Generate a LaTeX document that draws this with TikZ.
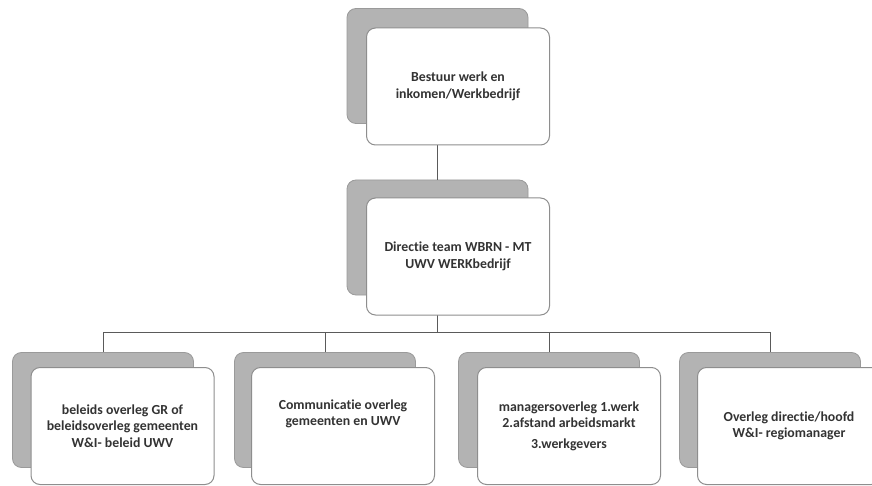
\documentclass[tikz,border=0pt]{standalone}
\usepackage{fontspec}
\setmainfont{Carlito}[Ligatures=NoCommon]
\definecolor{backfill}{HTML}{B3B3B3}
\definecolor{backdraw}{HTML}{9A9A9A}
\definecolor{frontdraw}{HTML}{8E8E8E}
\definecolor{txt}{HTML}{333333}
\definecolor{conn}{HTML}{5A5A5A}
\tikzset{
  backbox/.style={draw=backdraw, fill=backfill, rounded corners=9pt, line width=0.8pt,
    minimum width=181pt, minimum height=115pt, inner sep=0pt},
  frontbox/.style={draw=frontdraw, fill=white, rounded corners=9pt, line width=1pt,
    minimum width=183pt, minimum height=117pt, align=center, text=txt,
    font=\fontsize{13.8}{16.5}\selectfont\bfseries, inner sep=2pt},
  conline/.style={draw=conn, line width=0.9pt}
}
\begin{document}
\begin{tikzpicture}[x=1pt,y=-1pt]
\useasboundingbox[fill=white] (0,0) rectangle (872,486);
\clip (0,0) rectangle (872,486);
% connectors (drawn first, boxes cover them)
\coordinate (c0) at (437.5,66);
\coordinate (c1) at (437.5,237.5);
\coordinate (bar) at (437.5,332);
\coordinate (c2) at (103,410);
\coordinate (c3) at (325,410);
\coordinate (c4) at (549,410);
\coordinate (c5) at (770,410);
% back boxes
\node[backbox] (s0) at (c0) {};
\node[backbox] (s1) at (c1) {};
\node[backbox] (s2) at (c2) {};
\node[backbox] (s3) at (c3) {};
\node[backbox] (s4) at (c4) {};
\node[backbox] (s5) at (c5) {};
\draw[conline] (s0.south) -- (s1.north);
\draw[conline] (s1.south) -- (bar);
\draw[conline] (bar) -| (s2.north);
\draw[conline] (bar) -| (s3.north);
\draw[conline] (bar) -| (s4.north);
\draw[conline] (bar) -| (s5.north);
% front boxes
\node[frontbox] (f0) at (458,86.5) {Bestuur werk en\\inkomen/Werkbedrijf};
\node[frontbox] (f1) at (458,256.5) {Directie team WBRN - MT\\UWV WERKbedrijf};
\node[frontbox] (f2) at (122.5,426) {beleids overleg GR of\\beleidsoverleg gemeenten\\W\&I- beleid UWV};
\node[frontbox] (f3) at (343,426) {Communicatie overleg\\gemeenten en UWV\\[10pt]};
\node[frontbox] (f4) at (569,426) {managersoverleg 1.werk\\2.afstand arbeidsmarkt\\[4pt]3.werkgevers};
\node[frontbox] (f5) at (789,426) {Overleg directie/hoofd\\W\&I- regiomanager};
\end{tikzpicture}
\end{document}
